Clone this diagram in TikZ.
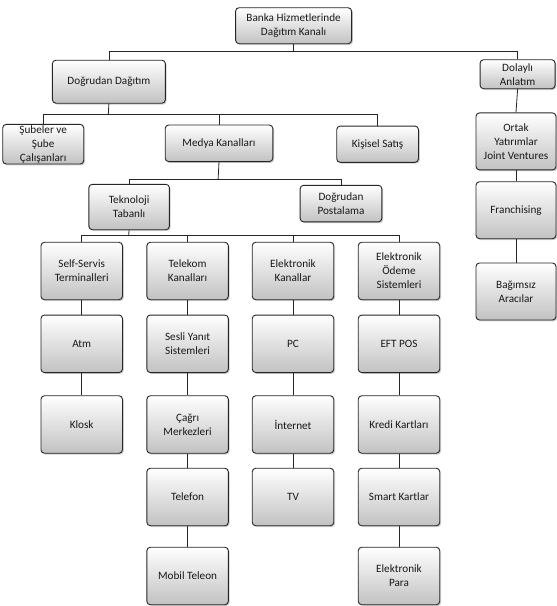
\documentclass[tikz,border=0pt]{standalone}
\usepackage{fontspec}
\setmainfont{Carlito}
\usetikzlibrary{shadows}
\begin{document}
\begin{tikzpicture}[x=1pt,y=-1pt,
  box/.style={draw=black!85, line width=0.9pt, rounded corners=3.5pt,
    top color=white, bottom color=black!24,
    drop shadow={shadow xshift=1.3pt, shadow yshift=-1.3pt, opacity=0.4},
    align=center, font=\fontsize{11.2}{14}\selectfont, text=black!90, inner sep=1pt},
  colbox/.style={box, minimum width=81.5pt, minimum height=57.5pt},
  rbox/.style={box, minimum width=80pt, minimum height=57pt},
  conn/.style={draw=black!85, line width=0.8pt}]
\useasboundingbox (0,0) rectangle (557,606);

% junctions
\coordinate (j1) at (293.4,51.5);
\coordinate (j2) at (108.3,114.4);
\coordinate (j3) at (218.1,179.4);
\coordinate (j4) at (128.6,235.8);

% nodes
\node[box, minimum width=116pt, minimum height=36pt] (root) at (293.6,25.7) {Banka Hizmetlerinde\\Dağıtım Kanalı};
\node[box, minimum width=113pt, minimum height=43pt] (dd) at (108.9,81.7) {Doğrudan Dağıtım};
\node[box, minimum width=75pt, minimum height=29pt] (dol) at (517.6,74.2) {Dolaylı\\Anlatım};

\node[box, minimum width=81pt, minimum height=38pt] (sub) at (43.2,144.2) {Şubeler ve\\Şube\\Çalışanları};
\node[box, minimum width=107.6pt, minimum height=36.6pt] (med) at (219,143.3) {Medya Kanalları};
\node[box, minimum width=81.7pt, minimum height=36.3pt] (kis) at (377.6,144.2) {Kişisel Satış};

\node[rbox] (ort) at (516,141.4) {Ortak\\Yatırımlar\\Joint Ventures};
\node[rbox] (fra) at (516,210.2) {Franchising};
\node[rbox] (bag) at (516,291.5) {Bağımsız\\Aracılar};

\node[box, minimum width=80.6pt, minimum height=45.4pt] (tek) at (129.1,207) {Teknoloji\\Tabanlı};
\node[box, minimum width=81.7pt, minimum height=36.6pt] (pos) at (341,203.6) {Doğrudan\\Postalama};

% column 1
\node[colbox] (c1a) at (81.7,271) {Self-Servis\\Terminalleri};
\node[colbox] (c1b) at (81.7,343.8) {Atm};
\node[colbox] (c1c) at (81.7,424.5) {Klosk};
% column 2
\node[colbox] (c2a) at (187.6,271) {Telekom\\Kanalları};
\node[colbox] (c2b) at (187.6,343.8) {Sesli Yanıt\\Sistemleri};
\node[colbox] (c2c) at (187.6,424.5) {Çağrı\\Merkezleri};
\node[colbox] (c2d) at (187.6,497) {Telefon};
\node[colbox] (c2e) at (187.6,576) {Mobil Teleon};
% column 3
\node[colbox] (c3a) at (293,271) {Elektronik\\Kanallar};
\node[colbox] (c3b) at (293,343.8) {PC};
\node[colbox] (c3c) at (293,424.5) {İnternet};
\node[colbox] (c3d) at (293,497) {TV};
% column 4
\node[colbox] (c4a) at (399,271) {Elektronik\\Ödeme\\Sistemleri};
\node[colbox] (c4b) at (399,343.8) {EFT POS};
\node[colbox] (c4c) at (399,424.5) {Kredi Kartları};
\node[colbox] (c4d) at (399,497) {Smart Kartlar};
\node[colbox] (c4e) at (399,576) {Elektronik\\Para};

% connectors
\draw[conn] (root.south) -- (j1);
\draw[conn] (dd.north) |- (j1) -| (dol.north);
\draw[conn] (dol.south) -- (ort.north);
\draw[conn] (ort.south) -- (fra.north);
\draw[conn] (fra.south) -- (bag.north);

\draw[conn] (dd.south) -- (j2);
\draw[conn] (sub.north) |- (j2) -| (kis.north);
\draw[conn] (j2 -| med.north) -- (med.north);

\draw[conn] (med.south) -- (j3);
\draw[conn] (tek.north) |- (j3) -| (pos.north);

\draw[conn] (tek.south) -- (j4);
\draw[conn] (c1a.north) |- (j4) -| (c4a.north);
\draw[conn] (j4 -| c2a.north) -- (c2a.north);
\draw[conn] (j4 -| c3a.north) -- (c3a.north);

\draw[conn] (c1a) -- (c1b) (c1b) -- (c1c);
\draw[conn] (c2a) -- (c2b) (c2b) -- (c2c) (c2c) -- (c2d) (c2d) -- (c2e);
\draw[conn] (c3a) -- (c3b) (c3b) -- (c3c) (c3c) -- (c3d);
\draw[conn] (c4a) -- (c4b) (c4b) -- (c4c) (c4c) -- (c4d) (c4d) -- (c4e);
\end{tikzpicture}
\end{document}
